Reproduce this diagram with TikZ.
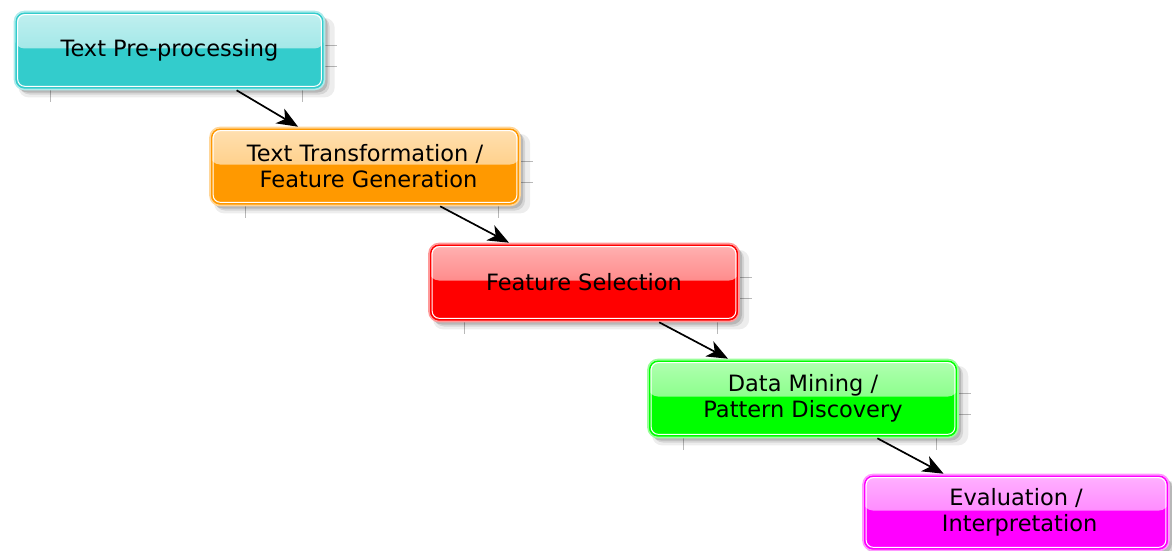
\documentclass[tikz,border=0pt]{standalone}
\usepackage{fontspec}
\setmainfont{DejaVu Sans}
\usetikzlibrary{arrows.meta,shadows}
\definecolor{cyanc}{HTML}{33CCCC}
\definecolor{orangec}{HTML}{FF9900}
\definecolor{redc}{HTML}{FF0000}
\definecolor{greenc}{HTML}{00FF00}
\definecolor{magc}{HTML}{FF00FF}
\tikzset{
  gbox/.style={rectangle, rounded corners=10pt, minimum width=310pt, minimum height=78pt,
    inner sep=0pt, fill=#1, draw=#1!40, line width=1.6pt, align=center,
    font=\fontsize{22.5}{26}\selectfont, text=black,
    drop shadow={shadow xshift=7pt, shadow yshift=-7pt, opacity=0.07, fill=black, shadow scale=1.02},
    drop shadow={shadow xshift=5pt, shadow yshift=-5pt, opacity=0.10, fill=black},
    drop shadow={shadow xshift=3pt, shadow yshift=-3pt, opacity=0.14, fill=black},
    path picture={
      \fill[top color=#1!30!white, bottom color=#1!62!white]
        (path picture bounding box.north west) rectangle ([yshift=2pt]path picture bounding box.east);
      \draw[#1, line width=1.6pt, rounded corners=8.5pt]
        ([xshift=1.6pt,yshift=-1.6pt]path picture bounding box.north west) rectangle
        ([xshift=-1.6pt,yshift=1.6pt]path picture bounding box.south east);
      \draw[white, line width=1pt, rounded corners=7pt]
        ([xshift=3.2pt,yshift=-3.2pt]path picture bounding box.north west) rectangle
        ([xshift=-3.2pt,yshift=3.2pt]path picture bounding box.south east);
    }},
  flow/.style={line width=1.7pt, -{Stealth[length=21pt,width=17pt,inset=6pt]}},
  seam/.style={gray!55, line width=0.6pt}
}
\newcommand\seams[4]{% left top right bottom (px, y down)
  \draw[seam] ({#1+36},#4) -- ({#1+36},{#4+12});
  \draw[seam] ({#3-23},#4) -- ({#3-23},{#4+12});
  \draw[seam] (#3,{#2+34}) -- ({#3+12},{#2+34});
  \draw[seam] (#3,{#2+55}) -- ({#3+12},{#2+55});
}
\begin{document}
\begin{tikzpicture}[x=1pt,y=-1pt]
\useasboundingbox (0,0) rectangle (1172,551);
\clip (0,0) rectangle (1172,551);
\seams{14}{11}{325}{90}
\seams{209}{127}{521}{206}
\seams{428}{243}{740}{322}
\seams{647}{359}{959}{438}
\node[gbox=cyanc] (a) at (169.5,50.5) {Text Pre-processing};
\node[gbox=orangec] (b) at (365,166.5) {Text Transformation /\\\mbox{}\ Feature Generation};
\node[gbox=redc] (c) at (584,282.5) {Feature Selection};
\node[gbox=greenc] (d) at (803,398.5) {Data Mining /\\ Pattern Discovery};
\node[gbox=magc, minimum width=306pt, minimum height=76pt] (e) at (1016,512.5) {Evaluation /\\\mbox{}\ Interpretation};
\draw[flow] (a) -- (b);
\draw[flow] (b) -- (c);
\draw[flow] (c) -- (d);
\draw[flow] (d) -- (e);
\end{tikzpicture}
\end{document}
